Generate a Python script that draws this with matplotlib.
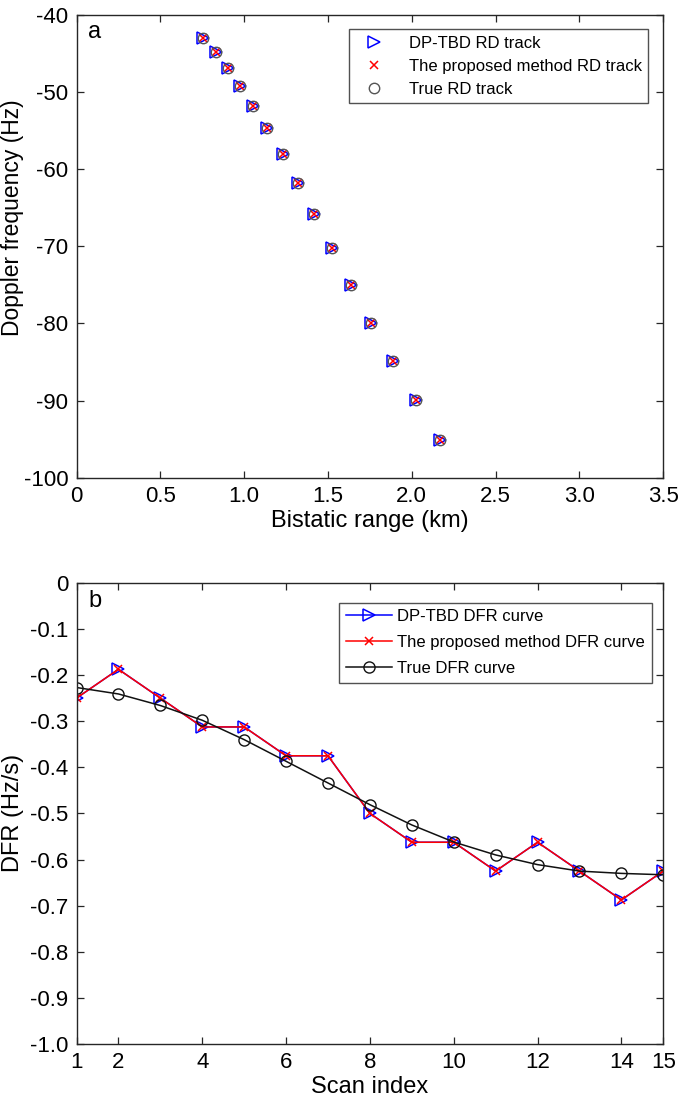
import numpy as np
import matplotlib
matplotlib.use('Agg')
import matplotlib.pyplot as plt

plt.rcParams['font.family'] = ['Liberation Sans', 'DejaVu Sans']
plt.rcParams['axes.unicode_minus'] = False

# panel a : range-doppler track
rng_km = [0.756, 0.830, 0.902, 0.975, 1.054, 1.138, 1.230, 1.323, 1.416,
          1.524, 1.635, 1.758, 1.886, 2.023, 2.168]
dop_hz = [-43.0, -44.9, -46.9, -49.3, -51.8, -54.7, -58.1, -61.8, -65.9,
          -70.3, -75.1, -80.0, -84.9, -89.9, -95.1]

# panel b : DFR curves
scan = np.arange(1, 16)
dfr_dp = [-0.25, -0.1875, -0.25, -0.3125, -0.3125, -0.375, -0.375, -0.5,
          -0.5625, -0.5625, -0.625, -0.5625, -0.625, -0.6875, -0.625]
dfr_prop = list(dfr_dp)
dfr_true = [-0.227, -0.241, -0.266, -0.298, -0.340, -0.387, -0.434, -0.481,
            -0.525, -0.562, -0.590, -0.611, -0.625, -0.630, -0.633]

axcol = '#262626'

fig = plt.figure(figsize=(6.85, 10.99), dpi=100)
ax1 = fig.add_axes([0.1117, 0.5653, 0.8566, 0.4215])
ax2 = fig.add_axes([0.1117, 0.0500, 0.8566, 0.4197])

def style(ax):
    for s in ax.spines.values():
        s.set_color(axcol)
        s.set_linewidth(1.0)
    ax.tick_params(direction='in', top=True, right=True, length=5,
                   width=0.9, color=axcol, labelsize=16, pad=6)

# ---- a ----
ax1.plot(rng_km, dop_hz, ls='none', marker='>', mfc='none', mec='#0000ff',
         ms=9, mew=1.1, label='DP-TBD RD track')
ax1.plot(rng_km, dop_hz, ls='none', marker='x', color='#ff0000',
         ms=5.5, mew=1.1, label='The proposed method RD track')
ax1.plot(rng_km, dop_hz, ls='none', marker='o', mfc='none', mec='#555555',
         ms=7.5, mew=1.0, label='True RD track')
ax1.set_xlim(0, 3.5)
ax1.set_ylim(-100, -40)
ax1.set_xticks(np.arange(0, 3.51, 0.5))
ax1.set_xticklabels(['0', '0.5', '1.0', '1.5', '2.0', '2.5', '3.0', '3.5'])
ax1.set_yticks(np.arange(-100, -39, 10))
ax1.set_xlabel('Bistatic range (km)', fontsize=17, labelpad=2)
ax1.set_ylabel('Doppler frequency (Hz)', fontsize=16.5)
ax1.yaxis.set_label_coords(-0.089, 0.561)
ax1.text(0.02, 0.985, 'a', transform=ax1.transAxes, fontsize=17,
         va='top', ha='left')
style(ax1)
leg = ax1.legend(loc='upper right', bbox_to_anchor=(0.9745, 0.968),
                 borderaxespad=0, fontsize=12, frameon=True, fancybox=False,
                 edgecolor=axcol, handlelength=2.2, handletextpad=1.0,
                 labelspacing=0.47)
leg.get_frame().set_linewidth(1.0)

# ---- b ----
ax2.plot(scan, dfr_dp, color='#0000ff', lw=1.1, marker='>', mfc='none',
         mec='#0000ff', ms=9, mew=1.1, label='DP-TBD DFR curve')
ax2.plot(scan, dfr_prop, color='#ff0000', lw=1.1, marker='x',
         ms=5.5, mew=1.1, label='The proposed method DFR curve')
ax2.plot(scan, dfr_true, color='#111111', lw=1.1, marker='o', mfc='none',
         mec='#111111', ms=8, mew=1.0, label='True DFR curve')
ax2.set_xlim(1, 15)
ax2.set_ylim(-1.0, 0)
ax2.set_xticks([1, 2, 4, 6, 8, 10, 12, 14, 15])
ax2.set_yticks(np.arange(-1.0, 0.01, 0.1))
ax2.set_yticklabels(['-1.0', '-0.9', '-0.8', '-0.7', '-0.6', '-0.5', '-0.4',
                     '-0.3', '-0.2', '-0.1', '0'])
ax2.set_xlabel('Scan index', fontsize=17, labelpad=2)
ax2.set_ylabel('DFR (Hz/s)', fontsize=17)
ax2.yaxis.set_label_coords(-0.089, 0.5)
ax2.text(0.02, 0.985, 'b', transform=ax2.transAxes, fontsize=17,
         va='top', ha='left')
style(ax2)
leg2 = ax2.legend(loc='upper right', bbox_to_anchor=(0.9805, 0.957),
                  borderaxespad=0, fontsize=12, frameon=True, fancybox=False,
                  edgecolor=axcol, handlelength=2.8, handletextpad=0.3,
                  labelspacing=0.66, borderpad=0.4)
leg2.get_frame().set_linewidth(1.0)

fig.savefig('out.png', dpi=100)
